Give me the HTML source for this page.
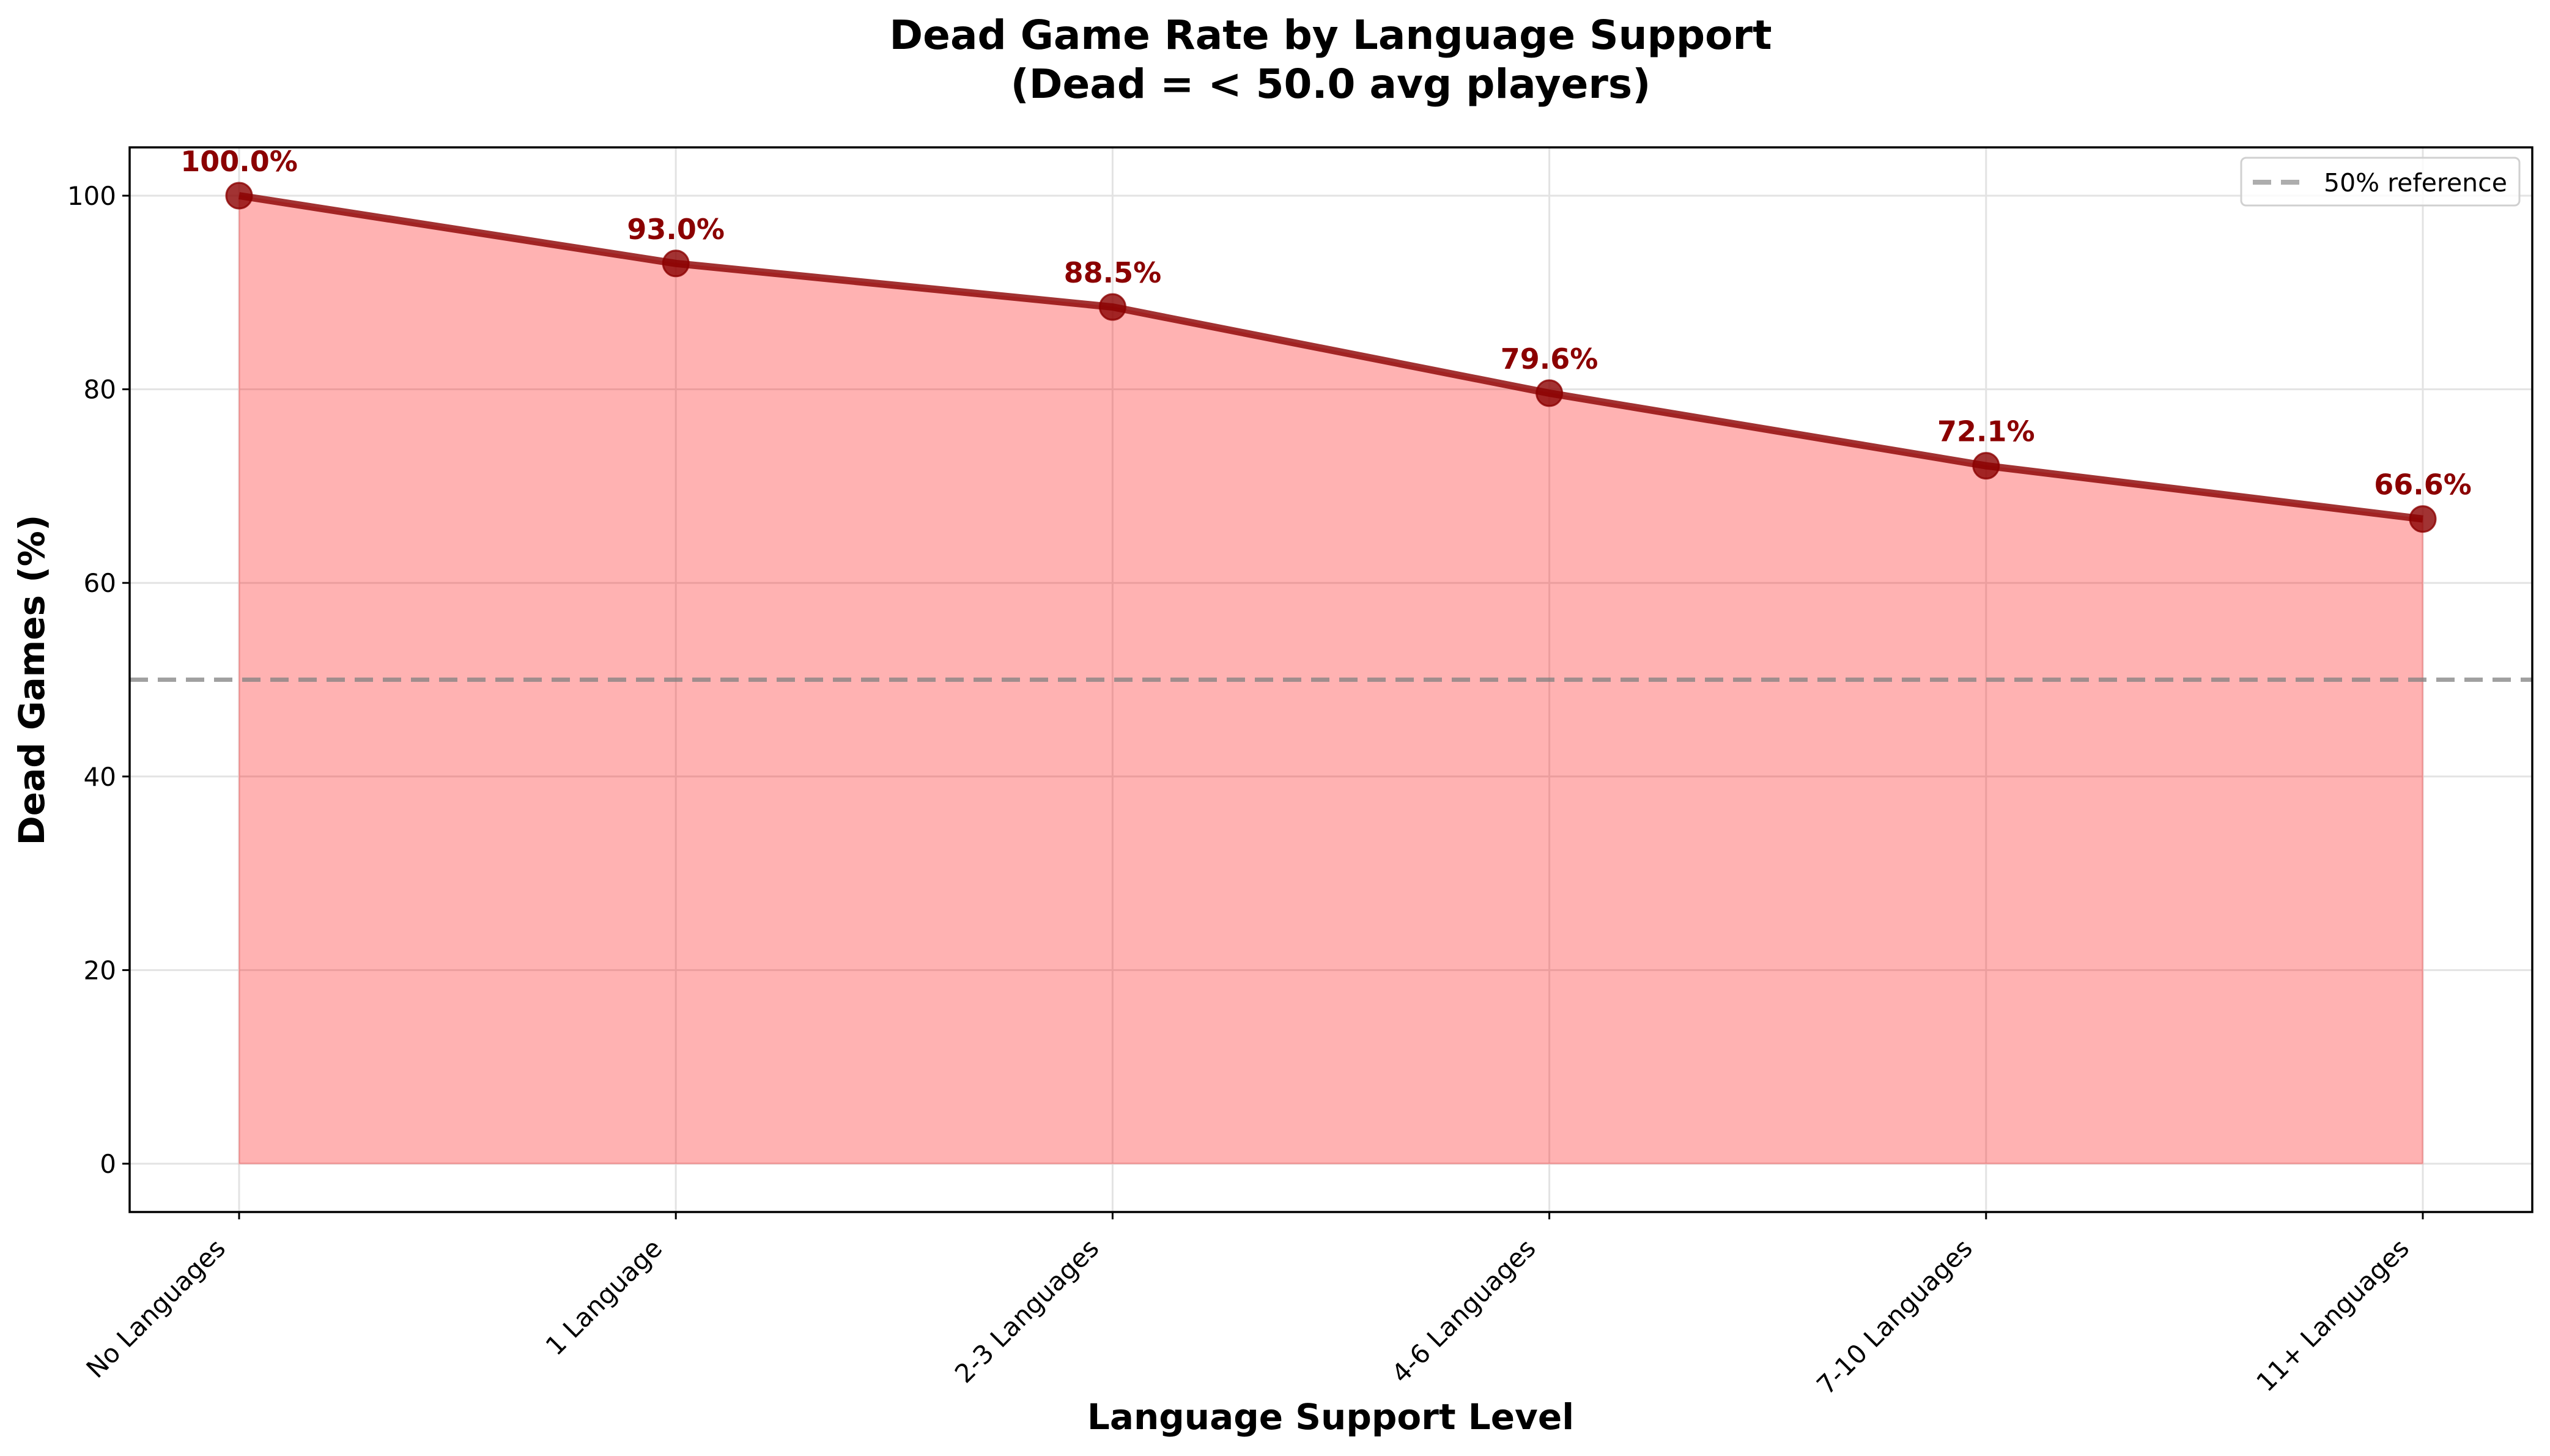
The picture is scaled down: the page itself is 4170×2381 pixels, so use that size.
<!DOCTYPE html>
<html><head><meta charset="utf-8"><style>
html,body{margin:0;padding:0;background:#fff}
svg{display:block;font-family:"DejaVu Sans","Liberation Sans",sans-serif}
</style></head><body>
<svg id="chart" xmlns="http://www.w3.org/2000/svg" width="4170" height="2381" viewBox="0 0 4170 2381">
<rect width="4170" height="2381" fill="#fff"/>
<text x="2176" y="80" text-anchor="middle" font-size="66" font-weight="bold">Dead Game Rate by Language Support</text>
<text x="2176" y="160" text-anchor="middle" font-size="66" font-weight="bold">(Dead = &lt; 50.0 avg players)</text>
<g id="grid"></g>
<g id="plot"></g>
<rect x="212" y="241" width="3929" height="1741" fill="none" stroke="#000" stroke-width="3.5"/>
<g id="axes"></g>
<text x="0" y="0" transform="translate(72,1112) rotate(-90)" text-anchor="middle" font-size="58" font-weight="bold">Dead Games (%)</text>
<text x="2176" y="2337" text-anchor="middle" font-size="58" font-weight="bold">Language Support Level</text>
<g>
<rect x="3665" y="258" width="455" height="78" rx="8" fill="#fff" fill-opacity="0.8" stroke="#d0d0d0" stroke-width="3"/>
<line x1="3684" y1="298" x2="3762" y2="298" stroke="#999" stroke-opacity="0.8" stroke-width="8" stroke-dasharray="30,16"/>
<text x="3800" y="313" font-size="41">50% reference</text>
</g>
</svg>
<script>
const categories = ["No Languages","1 Language","2-3 Languages","4-6 Languages","7-10 Languages","11+ Languages"];
const deadRates = [100.0, 93.0, 88.5, 79.6, 72.1, 66.6];
const yTicks = [0, 20, 40, 60, 80, 100];
const referenceValue = 50;

const NS = "http://www.w3.org/2000/svg";
const PX0 = 391, PX1 = 3962, PY100 = 320, PY0 = 1903;
const axL = 212, axR = 4141, axT = 241, axB = 1982;
function xScale(i){ return PX0 + (PX1 - PX0) * i / (categories.length - 1); }
function yScale(v){ return PY0 + (PY100 - PY0) * v / 100; }
function mk(tag, attrs, parent){
  const e = document.createElementNS(NS, tag);
  for (const k in attrs) e.setAttribute(k, attrs[k]);
  parent.appendChild(e);
  return e;
}
const gridG = document.getElementById('grid');
const plotG = document.getElementById('plot');
const axesG = document.getElementById('axes');

yTicks.forEach(v => {
  const y = yScale(v);
  const g = mk('line', {x1:axL, x2:axR, y1:y, y2:y, stroke:'#e3e3e3', 'stroke-width':3}, gridG);
  
  
  const t = mk('line', {x1:axL-12, x2:axL, y1:y, y2:y, stroke:'#000', 'stroke-width':3}, axesG);
  
  
  const l = mk('text', {x:axL-22, y:y+15, 'text-anchor':'end', 'font-size':42}, axesG);
  l.textContent = v;
  
  
});
categories.forEach((c, i) => {
  const x = xScale(i);
  const g = mk('line', {x1:x, x2:x, y1:axT, y2:axB, stroke:'#e3e3e3', 'stroke-width':3}, gridG);
  
  
  const t = mk('line', {x1:x, x2:x, y1:axB, y2:axB+12, stroke:'#000', 'stroke-width':3}, axesG);
  
  
  const l = mk('text', {x:0, y:0, 'text-anchor':'end', 'font-size':42, transform:'translate(' + (x - 20) + ',' + (axB + 62) + ') rotate(-45)'}, axesG);
  l.textContent = c;
  
  
});

let d = 'M' + xScale(0) + ',' + yScale(0);
deadRates.forEach((v, i) => { d += ' L' + xScale(i) + ',' + yScale(v); });
d += ' L' + xScale(deadRates.length - 1) + ',' + yScale(0) + ' Z';
const area = mk('path', {d:d, fill:'#ff0000', 'fill-opacity':0.3, stroke:'#ff0000', 'stroke-opacity':0.15, 'stroke-width':3}, plotG);



const ry = yScale(referenceValue);
const ref = mk('line', {x1:axL, x2:axR, y1:ry, y2:ry, stroke:'#808080', 'stroke-opacity':0.75, 'stroke-width':7, 'stroke-dasharray':'30,16'}, plotG);



const pts = deadRates.map((v, i) => xScale(i) + ',' + yScale(v)).join(' ');
const line = mk('polyline', {points:pts, fill:'none', stroke:'#8b0000', 'stroke-opacity':0.8, 'stroke-width':12, 'stroke-linejoin':'round'}, plotG);



deadRates.forEach((v, i) => {
  const cx = xScale(i), cy = yScale(v);
  const m = mk('circle', {cx:cx, cy:cy, r:21, fill:'#8b0000', 'fill-opacity':0.8, stroke:'#8b0000', 'stroke-opacity':0.8, 'stroke-width':3}, plotG);
  
  
  const t = mk('text', {x:cx, y:cy - 40, 'text-anchor':'middle', 'font-size':46, 'font-weight':'bold', fill:'#8b0000'}, plotG);
  t.textContent = v.toFixed(1) + '%';
  
  
});
</script>
</body></html>
